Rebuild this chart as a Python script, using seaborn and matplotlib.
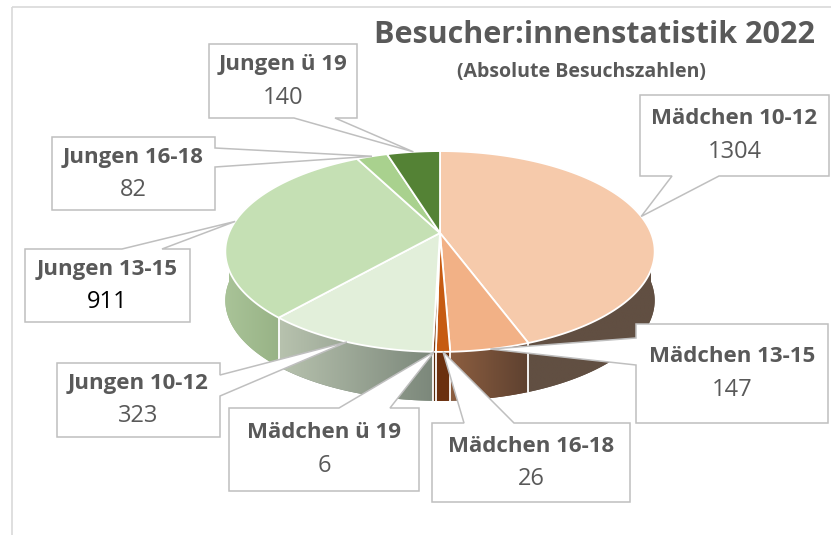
import numpy as np
import matplotlib.pyplot as plt
import seaborn as sns
from matplotlib.patches import Polygon, Rectangle

# data
labels = ['Mädchen 10-12', 'Mädchen 13-15', 'Mädchen 16-18', 'Mädchen ü 19',
          'Jungen 10-12', 'Jungen 13-15', 'Jungen 16-18', 'Jungen ü 19']
values = [1304, 147, 26, 6, 323, 911, 82, 140]
top_colors = ['#F6CAAB', '#F2B186', '#C65B12', '#843C0C',
              '#E2EFDA', '#C5E0B4', '#A9D18E', '#548235']
# side shading (start of slice -> end of slice)
side_colors = [('#614F42', '#614F42'), ('#5E4130', '#8C5E40'),
               ('#6B300F', '#6B300F'), ('#5A2A0A', '#5A2A0A'),
               ('#7C887B', '#B7C2AE'), ('#98B386', '#A9C398'),
               ('#8FAF78', '#8FAF78'), ('#3F6228', '#3F6228')]
value_colors = ['#595959', '#595959', '#595959', '#595959',
                '#595959', '#000000', '#595959', '#595959']

# label boxes (x0, y0, x1, y1), side of the pointer and its base
boxes = [(640, 95, 829, 176), (636, 324, 828, 423), (432, 423, 630, 502),
         (229, 408, 419, 491), (57, 363, 220, 437), (25, 249, 190, 322),
         (52, 137, 215, 210), (209, 44, 357, 118)]
tails = [('bottom', 672, 719), ('left', 338, 365), ('top', 464, 514),
         ('top', 339, 390), ('right', 375, 396), ('top', 122, 162),
         ('right', 148, 167), ('bottom', 294, 335)]

sns.set_theme(style='white')
plt.rcParams['font.family'] = ['Open Sans', 'DejaVu Sans']

fig = plt.figure(figsize=(8.31, 5.35), dpi=100)
ax = fig.add_axes([0, 0, 1, 1])

ax.add_patch(Rectangle((12, 7), 840, 540, fill=False, ec='#D9D9D9', lw=1.2))

# pie geometry with a little perspective
cx, cy = 440, 233
R, A, B = 211, 97, 0.184
depth = 49


def rim(theta):
    t = np.radians(theta)
    x, y = np.sin(t), np.cos(t)
    w = 1 + B * y
    return cx + R * x / w, cy - A * y / w


bounds = np.concatenate([[0], np.cumsum(values)]) / sum(values) * 360
n = len(values)

# sides of the cylinder (front half only), horizontal shading
for i in range(n):
    a0, a1 = max(bounds[i], 90), min(bounds[i + 1], 270)
    if a1 <= a0:
        continue
    xs, ys = rim(np.linspace(a0, a1, 80))
    poly = np.column_stack([np.r_[xs, xs[::-1]], np.r_[ys, ys[::-1] + depth]])
    patch = Polygon(poly, closed=True, fc=side_colors[i][0], ec='none', lw=0, zorder=1)
    ax.add_patch(patch)
    grad = np.array(sns.blend_palette(list(side_colors[i]), 64))[:, :3]
    if xs[-1] < xs[0]:
        grad = grad[::-1]
    img = ax.imshow(grad[np.newaxis, :, :], aspect='auto', interpolation='bilinear',
                    extent=(xs.min(), xs.max(), ys.max() + depth, ys.min()), zorder=1.5)
    img.set_clip_path(patch)

for b in bounds:
    if 90 < b < 270:
        x, y = rim(b)
        ax.plot([x, x], [y, y + depth], color='white', lw=1.3, zorder=2)

# top surface
for i in range(n):
    th = np.linspace(bounds[i], bounds[i + 1], max(3, int((bounds[i + 1] - bounds[i]) * 2)))
    xs, ys = rim(th)
    poly = np.column_stack([np.r_[cx, xs], np.r_[cy, ys]])
    ax.add_patch(Polygon(poly, closed=True, fc=top_colors[i], ec='white',
                         lw=1.3, joinstyle='round', zorder=3))

# callout labels
for i in range(n):
    x0, y0, x1, y1 = boxes[i]
    side, a, b = tails[i]
    tip = rim((bounds[i] + bounds[i + 1]) / 2)
    if side == 'bottom':
        pts = [(x0, y0), (x1, y0), (x1, y1), (b, y1), tip, (a, y1), (x0, y1)]
    elif side == 'top':
        pts = [(x0, y0), (a, y0), tip, (b, y0), (x1, y0), (x1, y1), (x0, y1)]
    elif side == 'right':
        pts = [(x0, y0), (x1, y0), (x1, a), tip, (x1, b), (x1, y1), (x0, y1)]
    else:
        pts = [(x0, y0), (x1, y0), (x1, y1), (x0, y1), (x0, b), tip, (x0, a)]
    ax.add_patch(Polygon(pts, closed=True, fc='white', ec='#BFBFBF', lw=1.1, zorder=5))
    mx, my = (x0 + x1) / 2, (y0 + y1) / 2
    ax.text(mx, my - 16.5, labels[i], ha='center', va='center', fontsize=16,
            fontweight='bold', color='#595959', zorder=6)
    ax.text(mx, my + 16.5, str(values[i]), ha='center', va='center', fontsize=17,
            color=value_colors[i], zorder=6)

ax.text(594, 43, 'Besucher:innenstatistik 2022', ha='center', va='baseline',
        fontsize=22, fontweight='bold', color='#595959')
ax.text(581, 77, '(Absolute Besuchszahlen)', ha='center', va='baseline',
        fontsize=14, fontweight='bold', color='#595959')

ax.set_xlim(0, 831)
ax.set_ylim(535, 0)
ax.axis('off')

fig.savefig('out.png', dpi=100)
